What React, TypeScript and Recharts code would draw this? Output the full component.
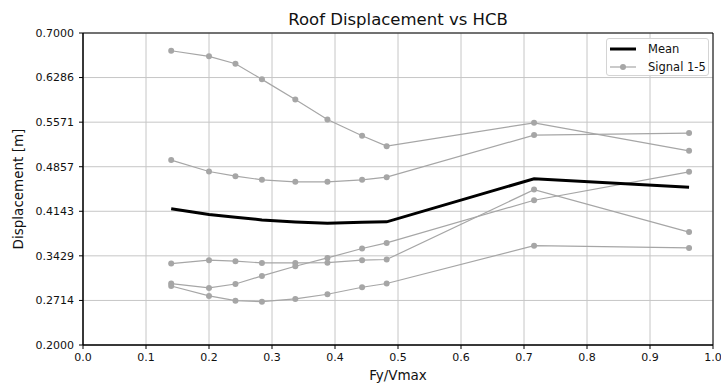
import React from 'react';
import { LineChart, Line, XAxis, YAxis, CartesianGrid, Legend, ReferenceArea } from 'recharts';

// Fy/Vmax sample points (shared by every series)
const fyRatio = [0.14, 0.2, 0.242, 0.284, 0.337, 0.388, 0.443, 0.482, 0.716, 0.962];

// roof displacement [m]
const signal1 = [0.6716, 0.6626, 0.6508, 0.6257, 0.5936, 0.5615, 0.5353, 0.5187, 0.5561, 0.5112];
const signal2 = [0.4963, 0.4781, 0.4706, 0.4647, 0.4615, 0.4615, 0.4647, 0.469, 0.5364, 0.5396];
const signal3 = [0.3305, 0.3359, 0.3343, 0.3316, 0.3316, 0.332, 0.3359, 0.337, 0.449, 0.381];
const signal4 = [0.2984, 0.2914, 0.2978, 0.3107, 0.3262, 0.3396, 0.3546, 0.3636, 0.432, 0.4775];
const signal5 = [0.2946, 0.2786, 0.2711, 0.2695, 0.2738, 0.2813, 0.2926, 0.2985, 0.3592, 0.3555];
const meanDisp = [0.4183, 0.4093, 0.4049, 0.4004, 0.3973, 0.3952, 0.3966, 0.3974, 0.4665, 0.453];

const xTicks = [0, 0.1, 0.2, 0.3, 0.4, 0.5, 0.6, 0.7, 0.8, 0.9, 1.0];
const yTicks = [0.2, 0.2714, 0.3429, 0.4143, 0.4857, 0.5571, 0.6286, 0.7];
const yTickLabels = ['0.2000', '0.2714', '0.3429', '0.4143', '0.4857', '0.5571', '0.6286', '0.7000'];

const signals = [signal1, signal2, signal3, signal4, signal5];

const data = fyRatio.map((x, i) => {
    const row: any = { x, mean: meanDisp[i] };
    signals.forEach((s, k) => { row['s' + (k + 1)] = s[i]; });
    return row;
});

const FONT = '"DejaVu Sans", sans-serif';
const GRAY = '#a6a6a6';

const renderLegend = () => (
    <div style={{
        width: 101, height: 36, border: '1px solid #d4d4d4', borderRadius: 3,
        background: 'rgba(255,255,255,0.85)', fontFamily: FONT, fontSize: 11.5, color: '#111',
        boxSizing: 'content-box',
    }}>
        <div style={{ display: 'flex', alignItems: 'center', height: 18, marginTop: 1 }}>
            <svg width={38} height={10} style={{ marginLeft: 3 }}>
                <line x1={0} y1={5} x2={26} y2={5} stroke="#000" strokeWidth={3} />
            </svg>
            <span>Mean</span>
        </div>
        <div style={{ display: 'flex', alignItems: 'center', height: 17 }}>
            <svg width={38} height={10} style={{ marginLeft: 3 }}>
                <line x1={0} y1={5} x2={26} y2={5} stroke={GRAY} strokeWidth={1.2} />
                <circle cx={13} cy={5} r={3} fill={GRAY} />
            </svg>
            <span>Signal 1-5</span>
        </div>
    </div>
);

const YLabel = (props: any) => {
    const vb = props.viewBox;
    const cy = vb.y + vb.height / 2;
    return (
        <text x={23} y={cy} transform={`rotate(-90, 23, ${cy})`} textAnchor="middle"
            fontFamily={FONT} fontSize={13.5} fill="#111">Displacement [m]</text>
    );
};

const XLabel = (props: any) => {
    const vb = props.viewBox;
    return (
        <text x={vb.x + vb.width / 2} y={380} textAnchor="middle"
            fontFamily={FONT} fontSize={13.5} fill="#111">Fy/Vmax</text>
    );
};

const App: React.FC = () => {
    return (
        <div style={{ position: 'absolute', left: 0, top: 0, background: '#fff' }}>
            <LineChart width={721} height={385} data={data}
                margin={{ top: 33, right: 8, bottom: 0, left: 0 }}>
                <CartesianGrid stroke="#c6c6c6" strokeWidth={1} />
                <XAxis dataKey="x" type="number" domain={[0, 1]} ticks={xTicks} height={40}
                    tickFormatter={(v: number) => v.toFixed(1)} interval={0}
                    tick={{ fontSize: 11, fontFamily: FONT, fill: '#111' }}
                    tickSize={4} tickMargin={4} stroke="#000" allowDataOverflow
                    label={<XLabel />} />
                <YAxis type="number" domain={[0.2, 0.7]} ticks={yTicks} width={83} interval={0}
                    tickFormatter={(v: number) => yTickLabels[yTicks.indexOf(v)] ?? v.toFixed(4)}
                    tick={{ fontSize: 11, fontFamily: FONT, fill: '#111' }}
                    tickSize={4} tickMargin={5} stroke="#000" allowDataOverflow
                    label={<YLabel />} />
                <ReferenceArea x1={0} x2={1} y1={0.2} y2={0.7} fill="none" fillOpacity={0}
                    stroke="#000" strokeWidth={1}
                    label={{ value: 'Roof Displacement vs HCB', position: 'top', offset: 8,
                        fontSize: 16.5, fontFamily: FONT, fill: '#111' }} />
                {signals.map((_, k) => (
                    <Line key={k} dataKey={'s' + (k + 1)} stroke={GRAY} strokeWidth={1.2}
                        dot={{ r: 3, fill: GRAY, stroke: 'none' }} activeDot={false}
                        type="linear" isAnimationActive={false} />
                ))}
                <Line dataKey="mean" stroke="#000" strokeWidth={3} dot={false} activeDot={false}
                    type="linear" isAnimationActive={false} />
                <Legend layout="horizontal" verticalAlign="middle" align="center"
                    content={renderLegend} wrapperStyle={{ top: 38, left: 606, width: 103 }} />
            </LineChart>
        </div>
    );
};

export default App;
